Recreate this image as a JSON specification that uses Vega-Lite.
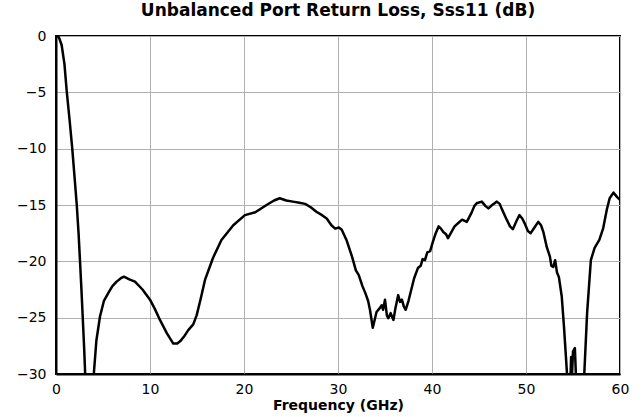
{
  "$schema": "https://vega.github.io/schema/vega-lite/v6.json",
  "width": 564,
  "height": 338,
  "autosize": "none",
  "padding": {"left": 56, "top": 36, "right": 22, "bottom": 43},
  "background": "white",
  "title": {"text": "Unbalanced Port Return Loss, Sss11 (dB)", "font": "DejaVu Sans", "fontSize": 17, "fontWeight": "bold", "color": "black", "offset": 9, "anchor": "middle"},
  "config": {
    "view": {"stroke": "black", "strokeWidth": 2},
    "axis": {"labelFont": "DejaVu Sans", "labelFontSize": 14, "labelColor": "black", "labelFlush": false, "titleFont": "DejaVu Sans", "titleFontSize": 14, "titleFontWeight": "bold", "titleColor": "black", "gridColor": "#b0b0b0", "gridWidth": 1, "domainColor": "black", "domainWidth": 2, "ticks": false}
  },
  "data": {"values": [
    {"f": 0, "s": 0}, {"f": 0.3, "s": -0.1}, {"f": 0.6, "s": -0.8}, {"f": 0.9, "s": -2.5}, {"f": 1.14, "s": -4.9},
    {"f": 1.45, "s": -7.5}, {"f": 1.73, "s": -10.0}, {"f": 2.0, "s": -12.8}, {"f": 2.2, "s": -14.9}, {"f": 2.4, "s": -17.5},
    {"f": 2.55, "s": -19.9}, {"f": 2.7, "s": -22.4}, {"f": 2.84, "s": -24.9}, {"f": 3.0, "s": -27.8}, {"f": 3.15, "s": -31},
    {"f": 3.4, "s": -40}, {"f": 3.7, "s": -40}, {"f": 3.95, "s": -31}, {"f": 4.04, "s": -29.8}, {"f": 4.3, "s": -27},
    {"f": 4.68, "s": -24.9}, {"f": 5.1, "s": -23.5}, {"f": 5.57, "s": -22.8}, {"f": 6.0, "s": -22.2}, {"f": 6.45, "s": -21.8},
    {"f": 6.9, "s": -21.5}, {"f": 7.23, "s": -21.36}, {"f": 7.8, "s": -21.6}, {"f": 8.4, "s": -21.8}, {"f": 9.2, "s": -22.5},
    {"f": 10.0, "s": -23.4}, {"f": 10.5, "s": -24.2}, {"f": 11.06, "s": -25.2}, {"f": 11.8, "s": -26.4}, {"f": 12.48, "s": -27.3},
    {"f": 12.9, "s": -27.3}, {"f": 13.2, "s": -27.1}, {"f": 13.6, "s": -26.7}, {"f": 14.07, "s": -26.1}, {"f": 14.6, "s": -25.6},
    {"f": 14.96, "s": -24.8}, {"f": 15.4, "s": -23.3}, {"f": 15.85, "s": -21.65}, {"f": 16.7, "s": -19.7}, {"f": 17.6, "s": -18.1},
    {"f": 18.86, "s": -16.8}, {"f": 20.1, "s": -15.9}, {"f": 21.2, "s": -15.65}, {"f": 22.4, "s": -15.0}, {"f": 23.2, "s": -14.6},
    {"f": 23.8, "s": -14.4}, {"f": 24.5, "s": -14.6}, {"f": 25.2, "s": -14.7}, {"f": 25.9, "s": -14.8}, {"f": 26.5, "s": -14.9},
    {"f": 27.1, "s": -15.2}, {"f": 27.7, "s": -15.6}, {"f": 28.3, "s": -15.9}, {"f": 28.8, "s": -16.2}, {"f": 29.3, "s": -16.8},
    {"f": 29.7, "s": -17.1}, {"f": 30.1, "s": -17.0}, {"f": 30.4, "s": -17.2}, {"f": 30.9, "s": -18.1}, {"f": 31.5, "s": -19.6},
    {"f": 31.9, "s": -20.8}, {"f": 32.2, "s": -21.2}, {"f": 32.6, "s": -22.2}, {"f": 32.9, "s": -22.8}, {"f": 33.2, "s": -23.5},
    {"f": 33.4, "s": -24.3}, {"f": 33.7, "s": -25.9}, {"f": 34.1, "s": -24.5}, {"f": 34.4, "s": -24.2}, {"f": 34.65, "s": -23.9},
    {"f": 34.8, "s": -24.3}, {"f": 35.0, "s": -23.4}, {"f": 35.2, "s": -24.8}, {"f": 35.35, "s": -25.05}, {"f": 35.6, "s": -24.6},
    {"f": 35.9, "s": -25.2}, {"f": 36.1, "s": -24.2}, {"f": 36.4, "s": -23.0}, {"f": 36.6, "s": -23.6}, {"f": 36.8, "s": -23.4},
    {"f": 37.0, "s": -24.0}, {"f": 37.2, "s": -24.3}, {"f": 37.5, "s": -23.5}, {"f": 37.8, "s": -22.5}, {"f": 38.1, "s": -21.5},
    {"f": 38.5, "s": -20.6}, {"f": 38.8, "s": -20.4}, {"f": 39.0, "s": -19.8}, {"f": 39.25, "s": -19.9}, {"f": 39.5, "s": -19.2},
    {"f": 39.8, "s": -19.1}, {"f": 40.1, "s": -18.25}, {"f": 40.4, "s": -17.5}, {"f": 40.7, "s": -16.9}, {"f": 40.95, "s": -17.1},
    {"f": 41.2, "s": -17.4}, {"f": 41.5, "s": -17.6}, {"f": 41.7, "s": -17.95}, {"f": 42.0, "s": -17.5}, {"f": 42.4, "s": -16.9},
    {"f": 42.8, "s": -16.6}, {"f": 43.2, "s": -16.3}, {"f": 43.7, "s": -16.5}, {"f": 44.2, "s": -15.7}, {"f": 44.5, "s": -15.1},
    {"f": 44.75, "s": -14.85}, {"f": 45.3, "s": -14.7}, {"f": 45.7, "s": -15.1}, {"f": 46.0, "s": -15.3}, {"f": 46.4, "s": -15.0},
    {"f": 46.9, "s": -14.7}, {"f": 47.2, "s": -14.9}, {"f": 47.4, "s": -15.3}, {"f": 47.95, "s": -16.3}, {"f": 48.3, "s": -16.9},
    {"f": 48.6, "s": -17.15}, {"f": 49.0, "s": -16.4}, {"f": 49.3, "s": -15.9}, {"f": 49.6, "s": -16.2}, {"f": 49.9, "s": -16.7},
    {"f": 50.2, "s": -17.3}, {"f": 50.5, "s": -17.5}, {"f": 50.9, "s": -17.0}, {"f": 51.3, "s": -16.5}, {"f": 51.6, "s": -16.8},
    {"f": 51.85, "s": -17.4}, {"f": 52.2, "s": -18.7}, {"f": 52.55, "s": -19.6}, {"f": 52.7, "s": -20.4}, {"f": 52.9, "s": -20.5},
    {"f": 53.1, "s": -19.9}, {"f": 53.3, "s": -21.0}, {"f": 53.5, "s": -21.4}, {"f": 53.8, "s": -23.1}, {"f": 54.04, "s": -25.8},
    {"f": 54.25, "s": -28.5}, {"f": 54.4, "s": -30.5}, {"f": 54.5, "s": -40}, {"f": 54.7, "s": -31}, {"f": 54.8, "s": -28.5},
    {"f": 54.9, "s": -30}, {"f": 55.0, "s": -28.0}, {"f": 55.2, "s": -27.7}, {"f": 55.35, "s": -31}, {"f": 55.5, "s": -40},
    {"f": 56.0, "s": -40}, {"f": 56.2, "s": -30}, {"f": 56.5, "s": -24.6}, {"f": 56.9, "s": -19.9}, {"f": 57.3, "s": -18.8},
    {"f": 57.8, "s": -18.1}, {"f": 58.2, "s": -17.1}, {"f": 58.6, "s": -15.4}, {"f": 58.9, "s": -14.4}, {"f": 59.3, "s": -13.9},
    {"f": 59.7, "s": -14.3}, {"f": 60.0, "s": -14.55}
  ]},
  "mark": {"type": "line", "color": "black", "strokeWidth": 2.5, "clip": true, "strokeJoin": "round"},
  "encoding": {
    "x": {"field": "f", "type": "quantitative", "scale": {"domain": [0, 60], "nice": false}, "axis": {"title": "Frequency (GHz)", "values": [0, 10, 20, 30, 40, 50, 60], "labelPadding": 8, "titlePadding": 2}},
    "y": {"field": "s", "type": "quantitative", "scale": {"domain": [-30, 0], "nice": false}, "axis": {"title": null, "values": [-30, -25, -20, -15, -10, -5, 0], "labelPadding": 10}}
  }
}
